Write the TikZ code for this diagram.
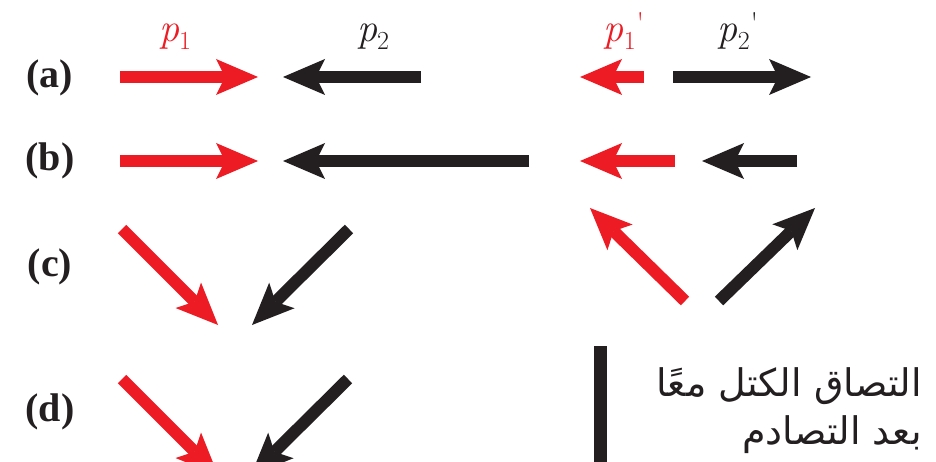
\documentclass[tikz,border=0pt]{standalone}
\usepackage{fontspec}
\usetikzlibrary{arrows.meta}
\newfontfamily\labfont{Liberation Serif}
\newfontfamily\arabicfont[Script=Arabic]{DejaVu Sans}
\TeXXeTstate=1
\definecolor{vred}{HTML}{ED1C24}
\definecolor{vblack}{HTML}{231F20}
\newcommand{\pvec}[1]{\textit{p}\raisebox{-8pt}{\fontsize{26}{26}\selectfont #1}}
\newcommand{\ptick}{\hspace{1pt}\raisebox{8pt}{\fontsize{30}{30}\selectfont\textquotesingle}}
\tikzset{
  vec/.style={line width=12pt, -{Stealth[length=42pt,width=36pt,inset=9pt,line width=0pt]}},
  redvec/.style={vec, draw=vred},
  blkvec/.style={vec, draw=vblack},
  partlabel/.style={font=\labfont\bfseries\fontsize{40}{44}\selectfont, text=vblack, inner sep=0pt},
  plabel/.style={font=\fontsize{40}{44}\selectfont, inner sep=0pt, anchor=base},
  arlabel/.style={font=\arabicfont\fontsize{38}{44}\selectfont, text=vblack, inner sep=0pt, anchor=base east},
}
\begin{document}
\begin{tikzpicture}[x=1pt,y=-1pt]
\useasboundingbox (0,0) rectangle (936,462);
\clip (0,0) rectangle (936,462);
\fill[white] (0,0) rectangle (936,462);
% part labels
\node[partlabel] (la) at (50,78) {(a)};
\node[partlabel] (lb) at (50,161) {(b)};
\node[partlabel] (lc) at (50,267) {(c)};
\node[partlabel] (ld) at (50,412) {(d)};
% momentum labels
\node[plabel, text=vred] (p1) at (175,42) {\pvec{1}};
\node[plabel, text=vblack] (p2) at (373,42) {\pvec{2}};
\node[plabel, text=vred] (p1p) at (624,42) {\pvec{1}\ptick};
\node[plabel, text=vblack] (p2p) at (738,42) {\pvec{2}\ptick};
% row (a)
\coordinate (a1s) at (120,77); \coordinate (a1e) at (258,77);
\coordinate (a2s) at (421,77); \coordinate (a2e) at (283,77);
\coordinate (a3s) at (644,77); \coordinate (a3e) at (580,77);
\coordinate (a4s) at (673,77); \coordinate (a4e) at (811,77);
\draw[redvec] (a1s) -- (a1e);
\draw[blkvec] (a2s) -- (a2e);
\draw[redvec] (a3s) -- (a3e);
\draw[blkvec] (a4s) -- (a4e);
% row (b)
\coordinate (b1s) at (120,161); \coordinate (b1e) at (258,161);
\coordinate (b2s) at (529,161); \coordinate (b2e) at (283,161);
\coordinate (b3s) at (675,161); \coordinate (b3e) at (580,161);
\coordinate (b4s) at (797,161); \coordinate (b4e) at (702,161);
\draw[redvec] (b1s) -- (b1e);
\draw[blkvec] (b2s) -- (b2e);
\draw[redvec] (b3s) -- (b3e);
\draw[blkvec] (b4s) -- (b4e);
% row (c)
\coordinate (c1s) at (122,229); \coordinate (c1e) at (218,325);
\coordinate (c2s) at (349,229); \coordinate (c2e) at (252,325);
\coordinate (c3s) at (685,301); \coordinate (c3e) at (590,208);
\coordinate (c4s) at (719,301); \coordinate (c4e) at (815,208);
\draw[redvec] (c1s) -- (c1e);
\draw[blkvec] (c2s) -- (c2e);
\draw[redvec] (c3s) -- (c3e);
\draw[blkvec] (c4s) -- (c4e);
% row (d)
\coordinate (d1s) at (122,379); \coordinate (d1e) at (218,475);
\coordinate (d2s) at (348,379); \coordinate (d2e) at (251,475);
\draw[redvec] (d1s) -- (d1e);
\draw[blkvec] (d2s) -- (d2e);
% bar and text
\coordinate (bart) at (600,346); \coordinate (barb) at (600,470);
\draw[line width=13pt, vblack] (bart) -- (barb);
\node[arlabel] (ar1) at (922,396) {\beginR التصاق الكتل معًا\endR};
\node[arlabel] (ar2) at (922,444) {\beginR بعد التصادم\endR};
\end{tikzpicture}
\end{document}
